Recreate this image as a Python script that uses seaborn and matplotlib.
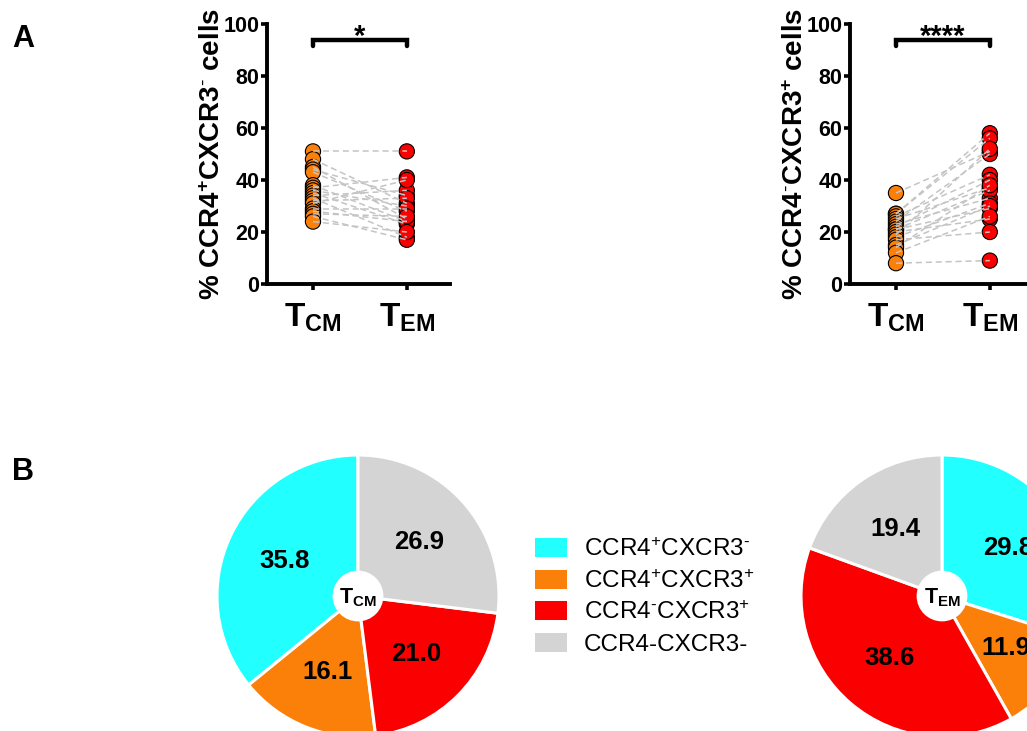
import numpy as np
import pandas as pd
import matplotlib
matplotlib.use("Agg")
import matplotlib.pyplot as plt
from matplotlib.patches import Patch, Circle
import seaborn as sns

# ---------------- data ----------------
groups = ["TCM", "TEM"]
group_labels = [r"$\mathbf{T}_{\mathbf{CM}}$", r"$\mathbf{T}_{\mathbf{EM}}$"]

# % CCR4+CXCR3- cells (paired donors)
ccr4p_tcm = [51, 48, 45, 44, 43, 38, 37, 36, 35, 34, 33, 32, 31, 29, 28, 27, 26, 24]
ccr4p_tem = [51, 31, 25, 34, 28, 24, 41, 30, 23, 36, 18, 33, 40, 29, 24, 26, 17, 20]

# % CCR4-CXCR3+ cells (paired donors)
cxcr3p_tcm = [35, 27, 27, 26, 25, 24, 23, 22, 21, 21, 20, 19, 18, 17, 15, 14, 12, 8]
cxcr3p_tem = [51, 58, 56, 42, 37, 50, 33, 40, 29, 36, 25, 52, 31, 20, 30, 38, 26, 9]

sig_left = "*"
sig_right = "****"

subsets = [r"CCR4$^{+}$CXCR3$^{\text{-}}$", r"CCR4$^{+}$CXCR3$^{+}$",
           r"CCR4$^{\text{-}}$CXCR3$^{+}$", "CCR4-CXCR3-"]
pie_tcm = [35.8, 16.1, 21.0, 26.9]
pie_tem = [29.8, 11.9, 38.6, 19.4]
pie_tem_labels = ["29.8", "11.9", "38.6", "19.4"]

# ---------------- style ----------------
sns.set_theme(style="white")
plt.rcParams["font.family"] = ["Liberation Sans", "DejaVu Sans"]
plt.rcParams["mathtext.fontset"] = "custom"
plt.rcParams["mathtext.rm"] = "Liberation Sans"
plt.rcParams["mathtext.bf"] = "Liberation Sans:bold"
plt.rcParams["mathtext.it"] = "Liberation Sans:italic"
for key in ["text.color", "axes.labelcolor", "xtick.color", "ytick.color",
            "axes.edgecolor"]:
    plt.rcParams[key] = "black"

C_CYAN = "#22FFFF"
C_ORANGE = "#FB800A"
C_RED = "#FA0000"
C_GRAY = "#D4D4D4"
subset_colors = [C_CYAN, C_ORANGE, C_RED, C_GRAY]

W, H = 1027, 731
fig = plt.figure(figsize=(W / 100, H / 100), dpi=100)


def px_axes(x0, y_top, w, h):
    return fig.add_axes([x0 / W, 1 - (y_top + h) / H, w / W, h / H])


def paired_panel(ax, tcm, tem, ylabel, sig):
    n = len(tcm)
    df = pd.DataFrame({
        "subject": list(range(n)) * 2,
        "group": [groups[0]] * n + [groups[1]] * n,
        "value": list(tcm) + list(tem),
    })
    df["pos"] = df["group"].map({g: i for i, g in enumerate(groups)})
    sns.scatterplot(data=df, x="pos", y="value", hue="group",
                    palette={groups[0]: C_ORANGE, groups[1]: C_RED},
                    s=120, edgecolor="black", linewidth=0.8, legend=False,
                    ax=ax, zorder=3)
    sns.lineplot(data=df, x="pos", y="value", units="subject", estimator=None,
                 color="#C4C4C4", linewidth=1.1, dashes=False, ax=ax, zorder=4,
                 legend=False)
    for ln in ax.lines:
        ln.set_linestyle((0, (4, 2.5)))
    ax.set_xlim(-0.49, 1.46)
    ax.set_ylim(0, 100)
    ax.set_yticks([0, 20, 40, 60, 80, 100])
    ax.set_xticks([0, 1])
    ax.set_xticklabels(group_labels, fontsize=24)
    ax.tick_params(axis="y", labelsize=15.5, length=4.5, width=2.6, pad=1,
                   direction="out", left=True)
    ax.tick_params(axis="x", length=4.5, width=2.6, pad=8, direction="out",
                   bottom=True)
    for lab in ax.get_yticklabels():
        lab.set_fontweight("bold")
    for side in ["top", "right"]:
        ax.spines[side].set_visible(False)
    for side in ["left", "bottom"]:
        ax.spines[side].set_linewidth(2.8)
        ax.spines[side].set_color("black")
    ax.set_xlabel("")
    ax.set_ylabel(ylabel, fontsize=20, fontweight="bold", labelpad=-2)
    # significance bracket
    ax.plot([0, 0, 1, 1], [91.5, 93.8, 93.8, 91.5], color="black", lw=3.2,
            solid_joinstyle="miter", clip_on=False, zorder=5)
    ax.text(0.5, 89.5, sig, ha="center", va="bottom", fontsize=21,
            fontweight="bold", clip_on=False)


ax1 = px_axes(267, 24, 183, 260)
paired_panel(ax1, ccr4p_tcm, ccr4p_tem,
             r"% CCR4$^{\mathbf{+}}$CXCR3$^{\mathbf{\text{-}}}$ cells", sig_left)

ax2 = px_axes(850, 24, 183, 260)
paired_panel(ax2, cxcr3p_tcm, cxcr3p_tem,
             r"% CCR4$^{\mathbf{\text{-}}}$CXCR3$^{\mathbf{+}}$ cells", sig_right)


def pie_panel(cx, cy, r, values, labels, center_label, counterclock):
    ax = px_axes(cx - r, cy - r, 2 * r, 2 * r)
    wedges, texts = ax.pie(values, colors=subset_colors, startangle=90,
                           counterclock=counterclock, labels=labels,
                           labeldistance=0.58,
                           wedgeprops=dict(edgecolor="white", linewidth=2.2),
                           textprops=dict(fontsize=18.5, fontweight="bold",
                                          color="black",
                                          ha="center", va="center"))
    for w in wedges:
        w.set_clip_on(False)
    for t in texts:
        t.set_clip_on(False)
    ax.add_patch(Circle((0, 0), 0.18, facecolor="white", edgecolor="none",
                        zorder=5, clip_on=False))
    ax.text(0, -0.01, center_label, ha="center", va="center", fontsize=15.5,
            zorder=6)
    ax.set_xlim(-1, 1)
    ax.set_ylim(-1, 1)
    ax.set_aspect("equal")
    ax.axis("off")
    return ax


pie_panel(358, 596, 141, pie_tcm, [f"{v:.1f}" for v in pie_tcm],
          r"$\mathbf{T}_{\mathbf{CM}}$", True)
pie_panel(942, 596, 141, pie_tem, pie_tem_labels,
          r"$\mathbf{T}_{\mathbf{EM}}$", False)

handles = [Patch(facecolor=c, edgecolor="none") for c in subset_colors]
fig.legend(handles, subsets, loc="upper left",
           bbox_to_anchor=(535 / W, 1 - 538 / H), frameon=False,
           fontsize=17.5, handlelength=1.3, handleheight=0.82,
           handletextpad=0.7, labelspacing=0.36, borderpad=0,
           borderaxespad=0)

fig.text(12 / W, 1 - 47 / H, "A", fontsize=22, fontweight="bold")
fig.text(12 / W, 1 - 480 / H, "B", fontsize=22, fontweight="bold")

fig.savefig("out.png", dpi=100)
